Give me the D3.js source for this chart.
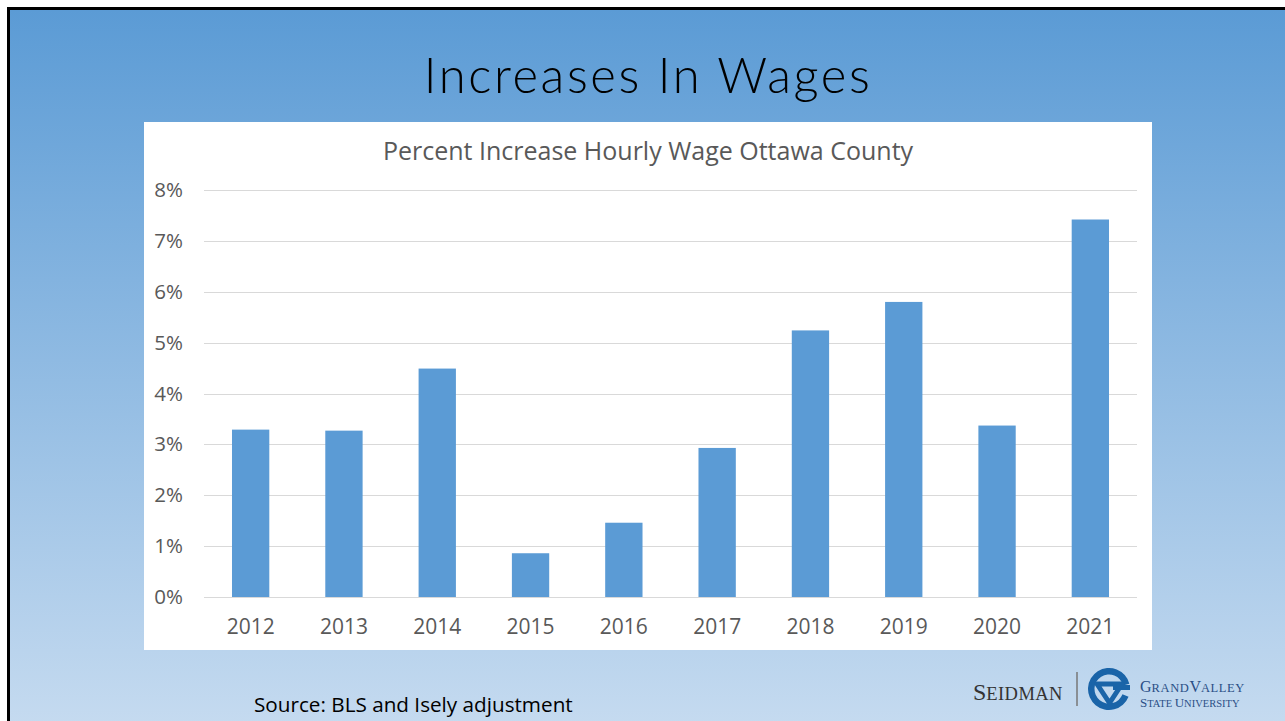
<!DOCTYPE html>
<html><head><meta charset="utf-8">
<script src="https://cdn.jsdelivr.net/npm/d3@7"></script>
<style>html,body{margin:0;padding:0;background:#fff;overflow:hidden}</style>
</head><body><svg id="c" width="1285" height="721"></svg>
<script>
const categories = ["2012","2013","2014","2015","2016","2017","2018","2019","2020","2021"];
const values = [3.29, 3.27, 4.49, 0.86, 1.46, 2.93, 5.24, 5.80, 3.37, 7.42];
const yTicks = [0,1,2,3,4,5,6,7,8];
const titleText = "Increases In Wages";
const chartTitle = "Percent Increase Hourly Wage Ottawa County";
const sourceText = "Source: BLS and Isely adjustment";

const svg = d3.select("#c");
const defs = svg.append("defs");
const g = defs.append("linearGradient").attr("id","bg").attr("x1",0).attr("y1",0).attr("x2",0).attr("y2",1);
g.append("stop").attr("offset","0%").attr("stop-color","#5b9bd5");
g.append("stop").attr("offset","100%").attr("stop-color","#c6dbf0");

svg.append("rect").attr("x",0).attr("y",0).attr("width",1285).attr("height",721).attr("fill","#fff");
svg.append("rect").attr("x",10).attr("y",10).attr("width",1285).attr("height",721).attr("fill","url(#bg)");
svg.append("path").attr("d","M8.5,721 V8.5 H1285").attr("fill","none").attr("stroke","#000").attr("stroke-width",3);

svg.append("text").attr("x",648).attr("y",93).attr("text-anchor","middle")
  .attr("font-family","Lato, 'Open Sans', sans-serif").attr("font-weight",300)
  .attr("font-size",49).attr("letter-spacing",2.6).attr("fill","#000").text(titleText);

// chart panel
svg.append("rect").attr("x",144).attr("y",122).attr("width",1008).attr("height",528).attr("fill","#fff");
svg.append("text").attr("x",648).attr("y",160).attr("text-anchor","middle")
  .attr("font-family","'Open Sans', sans-serif").attr("font-size",25).attr("fill","#595959").text(chartTitle);

const x = d3.scaleBand().domain(categories).range([204,1137]).paddingInner(0.6).paddingOuter(0.3);
const y = d3.scaleLinear().domain([0,8]).range([597,190]);

const grid = svg.append("g");
grid.selectAll("line").data(yTicks).join("line")
  .attr("x1",204).attr("x2",1137).attr("y1",d=>Math.round(y(d))+0.5).attr("y2",d=>Math.round(y(d))+0.5)
  .attr("stroke","#d9d9d9").attr("stroke-width",1);

const yAxis = svg.append("g").attr("transform","translate(183,0)")
  .call(d3.axisLeft(y).tickValues(yTicks).tickFormat(d=>d+"%").tickSize(0).tickPadding(0));
yAxis.select(".domain").remove();
yAxis.selectAll("text").attr("font-family","'Open Sans', sans-serif").attr("font-size",20.5).attr("fill","#595959");

svg.append("g").selectAll("rect").data(values).join("rect")
  .attr("x",(d,i)=>x(categories[i])).attr("width",x.bandwidth())
  .attr("y",d=>y(d)).attr("height",d=>y(0)-y(d)).attr("fill","#5b9bd5");

const xAxis = svg.append("g").attr("transform","translate(0,619)")
  .call(d3.axisBottom(x).tickSize(0).tickPadding(0));
xAxis.select(".domain").remove();
xAxis.selectAll("text").attr("font-family","'Open Sans', sans-serif").attr("font-size",21).attr("fill","#595959");

svg.append("text").attr("x",254).attr("y",712).attr("font-family","'Open Sans', sans-serif")
  .attr("font-size",20.7).attr("fill","#000").text(sourceText);

// logo
const logo = svg.append("g").attr("font-family","'Liberation Serif', serif");
const s = logo.append("text").attr("x",973).attr("y",700).attr("fill","#333");
s.append("tspan").attr("font-size",24).text("S");
s.append("tspan").attr("font-size",18.5).attr("letter-spacing",0.4).text("EIDMAN");
logo.append("line").attr("x1",1077).attr("x2",1077).attr("y1",672).attr("y2",706).attr("stroke","#777").attr("stroke-width",1.5);
const arc = d3.arc().innerRadius(14.5).outerRadius(21).startAngle(Math.PI*0.62).endAngle(Math.PI*2.42);
logo.append("path").attr("transform","translate(1109,689)").attr("d",arc()).attr("fill","#1a64a8");
logo.append("rect").attr("x",1113).attr("y",685).attr("width",17).attr("height",5).attr("fill","#1a64a8");
logo.append("path").attr("d","M1097,684 H1122 L1109.5,703 Z").attr("fill","none").attr("stroke","#1a64a8").attr("stroke-width",5).attr("stroke-linejoin","round");
const t1 = logo.append("text").attr("x",1140).attr("y",692).attr("fill","#2a4f86");
t1.append("tspan").attr("font-size",16).text("G");
t1.append("tspan").attr("font-size",12.5).attr("letter-spacing",0.6).text("RAND");
t1.append("tspan").attr("font-size",16).text("V");
t1.append("tspan").attr("font-size",12.5).attr("letter-spacing",0.6).text("ALLEY");
const t2 = logo.append("text").attr("x",1140).attr("y",707).attr("fill","#2a4f86");
t2.append("tspan").attr("font-size",13).text("S");
t2.append("tspan").attr("font-size",10.5).text("TATE ");
t2.append("tspan").attr("font-size",13).text("U");
t2.append("tspan").attr("font-size",10.5).text("NIVERSITY");
</script></body></html>
